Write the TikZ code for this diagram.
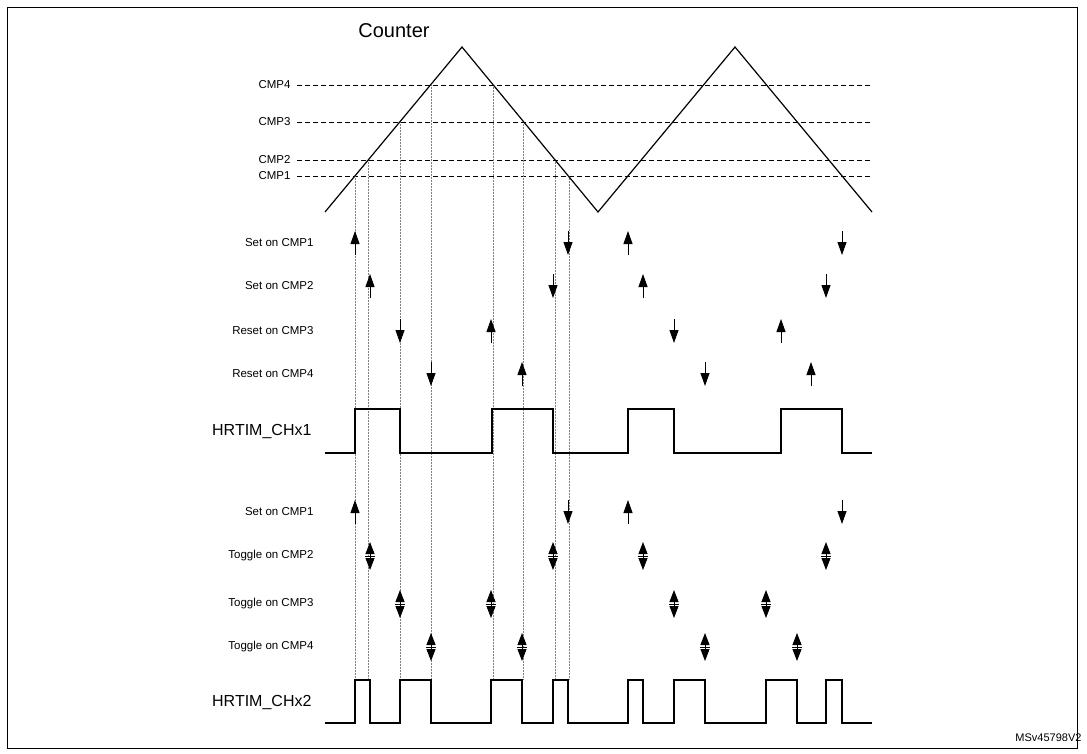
\documentclass[tikz,border=0pt]{standalone}
\usepackage{fontspec}
\setmainfont{Liberation Sans}
\usetikzlibrary{arrows.meta}
\tikzset{
  lbl/.style={anchor=east, font=\fontsize{11.5}{14}\selectfont},
  siglbl/.style={anchor=east, font=\fontsize{16}{18}\selectfont},
  evup/.style={-{Triangle[length=13pt,width=9pt]}, line width=0.9pt},
  wave/.style={line width=1.4pt, line join=miter},
  guide/.style={densely dotted, line width=0.5pt, gray},
  level/.style={dash pattern=on 5pt off 3pt, line width=0.8pt}
}
% event arrows: up, down, toggle
\newcommand{\evUp}[2]{\draw[evup] (#1,#2+12) -- (#1,#2-12);}
\newcommand{\evDn}[2]{\draw[evup] (#1,#2-12) -- (#1,#2+12);}
\newcommand{\evTg}[2]{\draw[{Triangle[length=12pt,width=9pt]}-{Triangle[length=12pt,width=9pt]}, line width=0.9pt] (#1,#2-14) -- (#1,#2+14);
  \draw[line width=0.8pt] (#1-5,#2) -- (#1+5,#2);}
\begin{document}
\begin{tikzpicture}[x=1pt,y=-1pt]
\useasboundingbox (0,0) rectangle (1087,753);
\draw[line width=0.8pt] (7,7) rectangle (1077,748);

% --- Counter and compare levels ---
\node[font=\fontsize{20}{22}\selectfont] (cnt) at (394,31) {Counter};
\foreach \nm/\yy in {CMP4/85, CMP3/122, CMP2/160, CMP1/176}{
  \node[lbl] (\nm) at (294,\yy) {\nm};
  \draw[level] (297,\yy) -- (872,\yy);
}
\draw[guide] (355,176) -- (355,680);
\draw[guide] (368,160) -- (368,680);
\draw[guide] (400,122) -- (400,680);
\draw[guide] (431,85) -- (431,680);
\draw[guide] (493,85) -- (493,680);
\draw[guide] (523,122) -- (523,680);
\draw[guide] (555,160) -- (555,680);
\draw[guide] (569,176) -- (569,680);
\draw[line width=1.2pt] (325,212) -- (462,47) -- (598,212) -- (735,47) -- (872,212);

% --- Output 1 ---
\node[lbl] (s1a) at (317,243) {Set on CMP1};
\node[lbl] (s2a) at (317,286) {Set on CMP2};
\node[lbl] (r3a) at (317,331) {Reset on CMP3};
\node[lbl] (r4a) at (317,374) {Reset on CMP4};
\evUp{355}{243} \evDn{568}{243} \evUp{628}{243} \evDn{842}{243}
\evUp{370}{286} \evDn{553}{286} \evUp{643}{286} \evDn{826}{286}
\evDn{400}{331} \evUp{491}{331} \evDn{674}{331} \evUp{781}{331}
\evDn{431}{374} \evUp{522}{374} \evDn{705}{374} \evUp{811}{374}
\node[siglbl] (ch1) at (315,431) {HRTIM\_CHx1};
\draw[wave] (325,453) -| (355,409) -| (400,453) -| (492,409) -| (553,453)
  -| (628,409) -| (674,453) -| (781,409) -| (842,453) -- (872,453);

% --- Output 2 ---
\node[lbl] (s1b) at (317,512) {Set on CMP1};
\node[lbl] (t2b) at (317,556) {Toggle on CMP2};
\node[lbl] (t3b) at (317,604) {Toggle on CMP3};
\node[lbl] (t4b) at (317,647) {Toggle on CMP4};
\evUp{355}{512} \evDn{568}{512} \evUp{628}{512} \evDn{842}{512}
\foreach \xx in {370,553,643,826}{\evTg{\xx}{556}}
\foreach \xx in {400,491,674,766}{\evTg{\xx}{604}}
\foreach \xx in {431,522,705,797}{\evTg{\xx}{647}}
\node[siglbl] (ch2) at (315,702) {HRTIM\_CHx2};
\draw[wave] (325,723) -| (355,680) -| (370,723) -| (400,680) -| (431,723)
  -| (491,680) -| (522,723) -| (553,680) -| (568,723) -| (628,680) -| (643,723)
  -| (674,680) -| (705,723) -| (766,680) -| (797,723) -| (826,680) -| (842,723)
  -- (872,723);

\node[font=\fontsize{11}{13}\selectfont, anchor=east] (ref) at (1085,738) {MSv45798V2};
\end{tikzpicture}
\end{document}
